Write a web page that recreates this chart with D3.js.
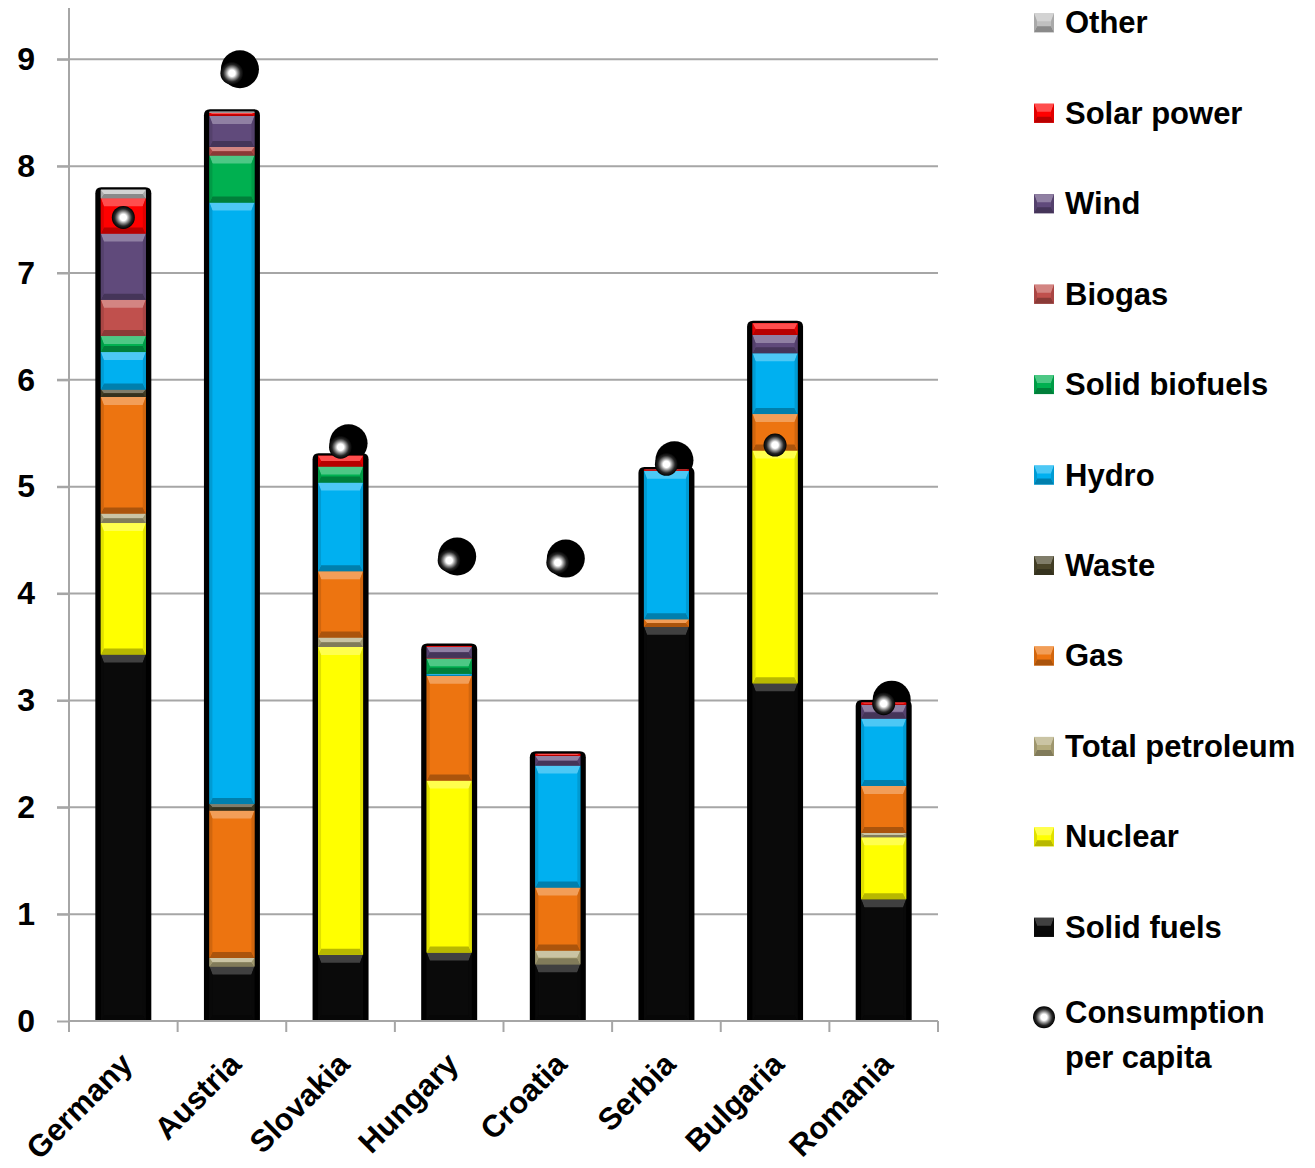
<!DOCTYPE html>
<html>
<head>
<meta charset="utf-8">
<script src="https://cdn.jsdelivr.net/npm/d3@7"></script>
<style>
  html, body { margin: 0; padding: 0; background: #fff; }
  svg { display: block; }
  text { font-family: "Liberation Sans", Arial, sans-serif; font-weight: bold; fill: #000; }
</style>
</head>
<body>
<svg id="chart" width="1315" height="1168"></svg>
<script>
// Electricity production per capita by source, with total consumption per capita
const countries = ["Germany", "Austria", "Slovakia", "Hungary", "Croatia", "Serbia", "Bulgaria", "Romania"];

// Stack order, bottom to top
const sources = ["Solid fuels", "Nuclear", "Total petroleum", "Gas", "Waste", "Hydro",
                 "Solid biofuels", "Biogas", "Wind", "Solar power", "Other"];

const solidFuels    = [3.43, 0.51, 0.62, 0.64, 0.53, 3.69, 3.16, 1.14];
const nuclear       = [1.23, 0.00, 2.88, 1.61, 0.00, 0.00, 2.18, 0.58];
const petroleum     = [0.09, 0.08, 0.09, 0.00, 0.13, 0.00, 0.00, 0.04];
const gas           = [1.09, 1.38, 0.62, 0.98, 0.59, 0.07, 0.34, 0.44];
const waste         = [0.07, 0.06, 0.00, 0.00, 0.00, 0.00, 0.00, 0.00];
const hydro         = [0.35, 5.63, 0.83, 0.02, 1.14, 1.39, 0.57, 0.63];
const solidBiofuels = [0.15, 0.44, 0.15, 0.14, 0.00, 0.00, 0.00, 0.00];
const biogas        = [0.34, 0.08, 0.00, 0.01, 0.00, 0.00, 0.00, 0.00];
const wind          = [0.62, 0.29, 0.00, 0.10, 0.09, 0.00, 0.17, 0.13];
const solar         = [0.33, 0.03, 0.10, 0.01, 0.02, 0.01, 0.11, 0.02];
const other         = [0.08, 0.01, 0.00, 0.00, 0.00, 0.00, 0.00, 0.00];

const consumption   = [7.52, 8.87, 5.37, 4.31, 4.29, 5.21, 5.39, 2.97];

const yTicks = [0, 1, 2, 3, 4, 5, 6, 7, 8, 9];

const seriesValues = [solidFuels, nuclear, petroleum, gas, waste, hydro,
                      solidBiofuels, biogas, wind, solar, other];

const colors = {
  "Other": "#c0c0c0",
  "Solar power": "#ff0000",
  "Wind": "#604a7b",
  "Biogas": "#c0504d",
  "Solid biofuels": "#00b050",
  "Hydro": "#00b0f0",
  "Waste": "#4a452a",
  "Gas": "#ed7410",
  "Total petroleum": "#b3ab7d",
  "Nuclear": "#ffff00",
  "Solid fuels": "#0a0a0a"
};

const table = countries.map((c, i) => {
  const row = { country: c };
  sources.forEach((s, k) => row[s] = seriesValues[k][i]);
  return row;
});

const stacked = d3.stack().keys(sources)(table);

const svg = d3.select("#chart");
const plot = { left: 69, right: 938, top: 8, bottom: 1021 };

const x = d3.scaleBand()
  .domain(countries)
  .range([plot.left, plot.right])
  .paddingInner(0.4845)
  .paddingOuter(0.4845 / 2);

const y = d3.scaleLinear().domain([0, 9.48]).range([plot.bottom, plot.top]);

const gridColor = "#a6a6a6";

// Horizontal gridlines
svg.append("g")
  .selectAll("line")
  .data(yTicks.filter(t => t > 0))
  .join("line")
  .attr("x1", plot.left - 12).attr("x2", plot.right)
  .attr("y1", d => y(d)).attr("y2", d => y(d))
  .attr("stroke", gridColor).attr("stroke-width", 2);

// Y axis line and labels
const yAxis = d3.axisLeft(y).tickValues(yTicks).tickSize(12).tickPadding(22).tickFormat(d3.format("d"));
const yg = svg.append("g").attr("transform", `translate(${plot.left},0)`).call(yAxis);
yg.select(".domain").attr("stroke", gridColor).attr("stroke-width", 2)
  .attr("d", `M0,${plot.top}V${plot.bottom}`);
yg.selectAll(".tick line").attr("stroke", gridColor).attr("stroke-width", 2);
yg.selectAll(".tick text")
  .style("font-family", '"Liberation Sans", Arial, sans-serif')
  .style("font-weight", "bold")
  .style("font-size", "32px")
  .attr("fill", "#000");

// Consumption marker shadows sit behind the bars
const markerR = 11.5;
svg.append("g")
  .selectAll("circle")
  .data(consumption)
  .join("circle")
  .attr("cx", (d, i) => x(countries[i]) + x.bandwidth() / 2 + 8)
  .attr("cy", d => y(d) - 4)
  .attr("r", 19)
  .attr("fill", "#000");

// Bar frames: black casing with rounded top corners
const frameTop = countries.map((c, i) => d3.sum(seriesValues, s => s[i]));
svg.append("g")
  .selectAll("path")
  .data(countries)
  .join("path")
  .attr("d", (c, i) => {
    const x0 = x(c), x1 = x0 + x.bandwidth(), t = y(frameTop[i]) - 2.5, b = y(0) + 1, r = 6;
    return `M${x0},${b}V${t + r}Q${x0},${t} ${x0 + r},${t}H${x1 - r}Q${x1},${t} ${x1},${t + r}V${b}Z`;
  })
  .attr("fill", "#000");

// Bevelled segment
function bevel(g, x0, x1, y0, y1, color) {
  const h = y1 - y0;
  if (h <= 0.05) return;
  const base = d3.color(color);
  const light = d3.interpolateRgb(color, "#ffffff")(color === "#0a0a0a" ? 0.22 : 0.3);
  const dark = d3.interpolateRgb(color, "#000000")(0.28);
  const side = d3.interpolateRgb(color, "#000000")(0.12);
  const bt = Math.min(8, h / 2), bb = Math.min(6, h / 2), bs = Math.min(3, (x1 - x0) / 2);
  g.append("rect").attr("x", x0).attr("y", y0).attr("width", x1 - x0).attr("height", h).attr("fill", base.formatHex());
  g.append("polygon")
    .attr("points", [[x0, y0], [x1, y0], [x1 - bs, y0 + bt], [x0 + bs, y0 + bt]].map(p => p.join(",")).join(" "))
    .attr("fill", light);
  g.append("polygon")
    .attr("points", [[x0, y1], [x1, y1], [x1 - bs, y1 - bb], [x0 + bs, y1 - bb]].map(p => p.join(",")).join(" "))
    .attr("fill", dark);
  g.append("polygon")
    .attr("points", [[x0, y0], [x0 + bs, y0 + bt], [x0 + bs, y1 - bb], [x0, y1]].map(p => p.join(",")).join(" "))
    .attr("fill", side);
  g.append("polygon")
    .attr("points", [[x1, y0], [x1 - bs, y0 + bt], [x1 - bs, y1 - bb], [x1, y1]].map(p => p.join(",")).join(" "))
    .attr("fill", side);
}

const inset = 5.5;
const barsG = svg.append("g");
stacked.forEach(layer => {
  layer.forEach((d, i) => {
    const c = countries[i];
    const x0 = x(c) + inset, x1 = x(c) + x.bandwidth() - inset;
    bevel(barsG, x0, x1, y(d[1]), y(d[0]), colors[layer.key]);
  });
});

// X axis line and category ticks
svg.append("line")
  .attr("x1", plot.left).attr("x2", plot.right)
  .attr("y1", plot.bottom).attr("y2", plot.bottom)
  .attr("stroke", gridColor).attr("stroke-width", 2);
const step = x.step();
svg.append("g")
  .selectAll("line")
  .data(d3.range(countries.length + 1))
  .join("line")
  .attr("x1", i => plot.left + i * step).attr("x2", i => plot.left + i * step)
  .attr("y1", plot.bottom).attr("y2", plot.bottom + 11)
  .attr("stroke", gridColor).attr("stroke-width", 2);

// Category labels, rotated
svg.append("g")
  .selectAll("text")
  .data(countries)
  .join("text")
  .attr("transform", c => `translate(${x(c) + x.bandwidth() / 2 + 11},1066) rotate(-45)`)
  .attr("text-anchor", "end")
  .style("font-size", "31px")
  .text(c => c);

// Consumption markers
const defs = svg.append("defs");
const grad = defs.append("radialGradient").attr("id", "sphere").attr("cx", "50%").attr("cy", "50%").attr("r", "50%");
grad.append("stop").attr("offset", "0%").attr("stop-color", "#ffffff");
grad.append("stop").attr("offset", "28%").attr("stop-color", "#ffffff");
grad.append("stop").attr("offset", "52%").attr("stop-color", "#8a8a8a");
grad.append("stop").attr("offset", "75%").attr("stop-color", "#262626");
grad.append("stop").attr("offset", "100%").attr("stop-color", "#000000");

svg.append("g")
  .selectAll("circle")
  .data(consumption)
  .join("circle")
  .attr("cx", (d, i) => x(countries[i]) + x.bandwidth() / 2)
  .attr("cy", d => y(d))
  .attr("r", markerR)
  .attr("fill", "url(#sphere)");

// Legend
const legendOrder = sources.slice().reverse();
const legend = svg.append("g");
const lgBase = 33.3, lgStep = 90.45, lgX = 1034, lgTextX = 1065;
legendOrder.forEach((s, i) => {
  const b = lgBase + i * lgStep;
  bevel(legend, lgX, lgX + 20, b - 20, b - 1, colors[s]);
  legend.append("text").attr("x", lgTextX).attr("y", b).style("font-size", "31px").text(s);
});
const cb = lgBase + legendOrder.length * lgStep - 5;
legend.append("circle").attr("cx", lgX + 10).attr("cy", cb - 6).attr("r", 11).attr("fill", "url(#sphere)");
legend.append("text").attr("x", lgTextX).attr("y", cb).style("font-size", "31px").text("Consumption");
legend.append("text").attr("x", lgTextX).attr("y", cb + 45).style("font-size", "31px").text("per capita");
</script>
</body>
</html>
